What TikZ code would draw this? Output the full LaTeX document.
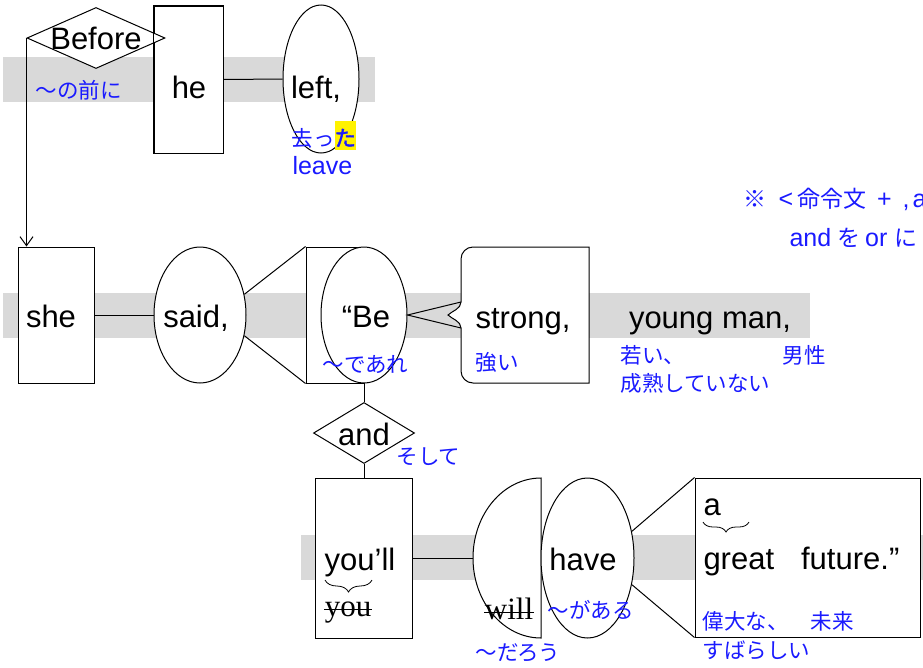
\documentclass[tikz,border=0pt]{standalone}
\usepackage{fontspec}
\setmainfont{Liberation Sans}
\newfontfamily\jpfont{Noto Sans CJK JP}
\newfontfamily\jpbold{Noto Sans CJK JP}[FakeBold=2]
\newfontfamily\strikefont{Liberation Serif}
\usetikzlibrary{shapes.geometric, arrows.meta, decorations.pathreplacing}
\definecolor{band}{HTML}{D9D9D9}
\definecolor{gloss}{HTML}{1A1AFF}
\newcommand{\jpn}[1]{{\jpfont\fontsize{23}{26}\selectfont #1}}

\begin{document}
\begin{tikzpicture}[x=1pt, y=-1pt, line width=1pt,
    box/.style={draw, fill=white, shape=rectangle, inner sep=0pt},
    oval/.style={draw, fill=white, shape=ellipse, inner sep=0pt},
    rhomb/.style={draw, fill=white, shape=diamond, inner sep=0pt},
    word/.style={font=\fontsize{31}{36}\selectfont, inner sep=0pt, anchor=base},
    crossed/.style={font=\strikefont\fontsize{31}{36}\selectfont, inner sep=0pt, anchor=base},
    jp/.style={text=gloss, font=\jpfont\fontsize{21.5}{24}\selectfont, inner sep=0pt, anchor=west},
    note/.style={text=gloss, font=\fontsize{25}{28}\selectfont, inner sep=0pt, anchor=west},
    curly/.style={decorate, decoration={brace, amplitude=#1}, line width=0.8pt}]
    \useasboundingbox (0, 0) rectangle (923, 667);

    \fill[band] (3, 57) rectangle (375, 102);
    \fill[band] (3, 293) rectangle (810, 338);
    \fill[band] (301, 535) rectangle (930, 580);

    % Before he left,
    \node at (188.5, 79.5) (he) [box, minimum width=69pt, minimum height=147pt] {};
    \node at (96, 38) (before) [rhomb, minimum width=138pt, minimum height=61pt] {};
    \draw (he.north west) rectangle (he.south east);
    \node at (321, 79) (left) [oval, minimum width=76pt, minimum height=148pt] {};
    \draw (he.east) -- (left.west);

    \node at (96, 49) (tbefore) [word] {Before};
    \node at (189, 98) (the) [word] {he};
    \node at (316, 98) (tleft) [word] {left,};
    \node at (35, 90) (gmae) [jp] {〜の前に};
    \node at (291, 146) (gsatta) [jp, anchor=base west] {去っ{\jpbold\setlength{\fboxsep}{0pt}\colorbox{yellow}{\rule[-4pt]{0pt}{29pt}た}}};
    \node at (292, 174) (gleave) [jp, anchor=base west, font=\fontsize{25}{28}\selectfont] {leave};

    % she said, "Be strong, young man,
    \node at (56, 315) (she) [box, minimum width=76pt, minimum height=136pt] {};
    \node at (200, 315) (said) [oval, minimum width=92pt, minimum height=136pt] {};
    \node at (335, 315) (bebox) [box, minimum width=58pt, minimum height=136pt] {};
    \node at (364, 315) (be) [oval, minimum width=86pt, minimum height=136pt] {};
    \coordinate (ptop) at (461, 302);
    \coordinate (pcusp) at (448, 315);
    \coordinate (pbot) at (461, 328);
    \draw[fill=white] (589, 247) -- (473, 247) arc[start angle=90, end angle=180, radius=12pt] -- (ptop)
        .. controls (461, 309) and (452, 311) .. (pcusp)
        .. controls (452, 319) and (461, 321) .. (pbot)
        -- (461, 371) arc[start angle=180, end angle=270, radius=12pt] -- (589, 383) -- cycle;

    \draw[-{Straight Barb[length=9pt, width=13pt]}] (before.west) -- (before.west |- she.north);
    \draw (she.east) -- (said.west);
    \draw (said.25) -- (bebox.north west);
    \draw (said.-25) -- (bebox.south west);
    \draw (ptop) -- (be.east) -- (pbot);

    \node at (51, 327) (tshe) [word] {she};
    \node at (196, 327) (tsaid) [word] {said,};
    \node at (366, 327) (tbe) [word] {“Be};
    \node at (523, 328) (tstrong) [word] {strong,};
    \node at (710, 328) (tyoung) [word] {young man,};
    \node at (322, 364) (gdeare) [jp] {〜であれ};
    \node at (475, 362) (gtsuyoi) [jp] {強い};
    \node at (620, 355) (gwakai) [jp] {若い、};
    \node at (620, 383) (gseijuku) [jp] {成熟していない};
    \node at (782, 355) (gdansei) [jp] {男性};

    \node at (743, 199) (note1) [note] {\jpn{※}\hspace{12pt}<\hspace{4pt}\jpn{命令文}\hspace{11pt}+\hspace{11pt},\hspace{3pt}a};
    \node at (789, 238) (note2) [note] {and\hspace{6pt}\jpn{を}\hspace{5pt}or\hspace{7pt}\jpn{に}};

    % and you'll have a great future."
    \node at (364, 433) (and) [rhomb, minimum width=101pt, minimum height=61pt] {};
    \node at (364, 558) (youll) [box, minimum width=97pt, minimum height=160pt] {};
    \draw[fill=white] (541, 478) arc[start angle=90, end angle=270, x radius=68pt, y radius=80pt] -- cycle;
    \coordinate (willw) at (473, 558);
    \node at (587.5, 558) (have) [oval, minimum width=93pt, minimum height=160pt] {};
    \node at (807.5, 557.5) (future) [box, minimum width=225pt, minimum height=159pt] {};

    \draw (be.south) -- (and.north);
    \draw (and.south) -- (youll.north);
    \draw (youll.east) -- (willw);
    \draw (have.31) -- (future.north west);
    \draw (have.-31) -- (future.south west);

    \node at (364, 445) (tand) [word] {and};
    \node at (360, 570) (tyoull) [word] {you’ll};
    \node at (348, 616) (tyou) [crossed] {you};
    \node at (509, 619) (twill) [crossed] {will};
    \draw ([yshift=7pt]tyou.base west) -- ([yshift=7pt]tyou.base east);
    \draw ([yshift=7pt]twill.base west) -- ([yshift=7pt]twill.base east);
    \node at (583, 570) (thave) [word] {have};
    \node at (703, 515) (ta) [word, anchor=base west] {a};
    \node at (703, 569) (tgreat) [word, anchor=base west] {great\hspace{27pt}future.”};
    \draw[curly=12pt] (372, 580) -- (325, 580);
    \draw[curly=10pt] (749, 522) -- (703, 522);

    \node at (396, 457) (gsoshite) [jp] {そして};
    \node at (475, 653) (gdarou) [jp] {〜だろう};
    \node at (547, 610) (ggaaru) [jp] {〜がある};
    \node at (702, 621) (gidai) [jp] {偉大な、};
    \node at (810, 621) (gmirai) [jp] {未来};
    \node at (702, 650) (gsuba) [jp] {すばらしい};
\end{tikzpicture}
\end{document}
